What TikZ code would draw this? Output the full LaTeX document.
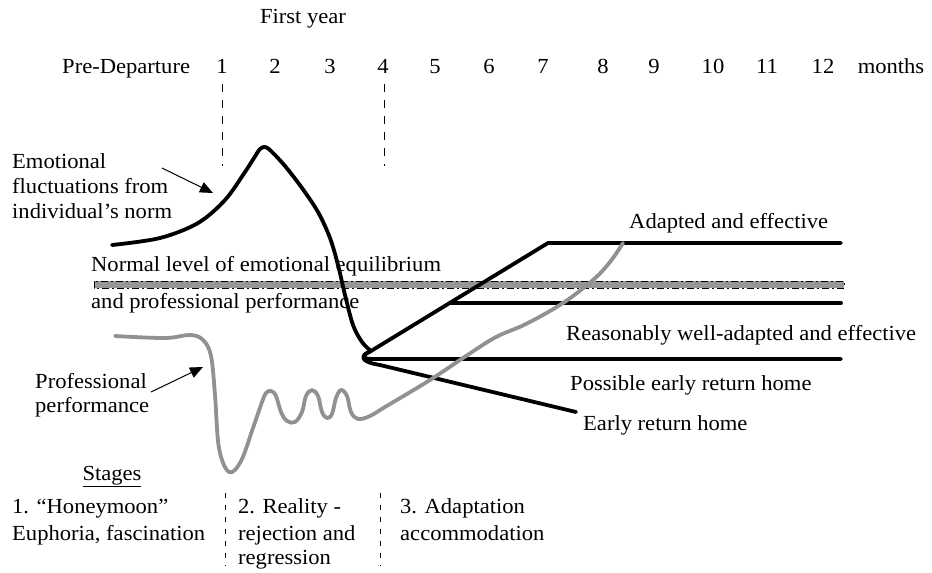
\documentclass[tikz,border=0pt]{standalone}
\usepackage{fontspec}
\setmainfont[FakeStretch=1.05]{Liberation Serif}
\usetikzlibrary{arrows.meta}
\definecolor{perfgray}{RGB}{145,145,145}
\definecolor{bandgray}{RGB}{150,150,150}
\tikzset{
  lbl/.style={inner sep=0pt, anchor=base west, font=\fontsize{21.5}{25}\selectfont},
  lblc/.style={inner sep=0pt, anchor=base, font=\fontsize{21.5}{25}\selectfont},
  emo/.style={line width=3.8pt, line cap=round, line join=round},
  perf/.style={line width=3.8pt, draw=perfgray, line cap=round, line join=round},
  divider/.style={line width=0.9pt, dash pattern=on 8pt off 8pt},
  stagediv/.style={line width=0.9pt, dash pattern=on 5pt off 7pt},
  pointer/.style={line width=1pt, -{Triangle[length=13pt,width=11pt]}}
}
\begin{document}
\begin{tikzpicture}[x=1pt,y=-1pt]
\useasboundingbox (0,0) rectangle (932,573);

% time axis
\node[lblc] (fy) at (303,23) {First year};
\node[lbl] (pre) at (62,73) {Pre-Departure};
\foreach \m/\xx in {1/222,2/275,3/330,4/383,5/435,6/489,7/543,8/603,9/654,10/713,11/767,12/823}
  \node[lblc] (m\m) at (\xx,73) {\m};
\node[lblc] (months) at (891,73) {months};

% month boundaries of the stages
\coordinate (d1t) at (222,84);  \coordinate (d1b) at (222,166);
\coordinate (d4t) at (384,84);  \coordinate (d4b) at (384,166);
\draw[divider] (d1t) -- (d1b);
\draw[divider] (d4t) -- (d4b);

% normal level band
\coordinate (bandA) at (94,281);
\coordinate (bandB) at (844,288);
\fill[bandgray] (bandA) rectangle (bandB);
\draw[line width=0.7pt, dash pattern=on 7pt off 3pt on 2pt off 3pt] (bandA) rectangle (bandB);
\node[lbl] (norm1) at (91,271) {Normal level of emotional equilibrium};
\node[lbl] (norm2) at (91,308) {and professional performance};

% emotional curve
\coordinate (junc) at (371,351);
\draw[emo] plot[smooth, tension=0.55] coordinates {
  (112,245) (160,238) (198,223) (225,200) (245,172) (254,158) (260,149) (265,147) (271,151)
  (285,166) (302,188) (318,212) (330,238) (338,265) (345,295) (353,325) (362,342) (371,351)};

% outcome branches
\coordinate (adA) at (548,243);
\coordinate (adB) at (841,243);
\coordinate (rwA) at (450,303);
\coordinate (rwB) at (841,303);
\coordinate (peA) at (373,359);
\coordinate (peB) at (841,359);
\coordinate (erA) at (380,365);
\coordinate (erB) at (576,412);
\draw[emo] (junc) -- (adA) -- (adB);
\draw[emo] (rwA) -- (rwB);
\draw[emo] (junc) .. controls (361,355) and (361,359) .. (peA) -- (peB);
\draw[emo] (junc) .. controls (358,357) and (362,362) .. (erA) -- (erB);

% professional performance curve
\draw[perf] plot[smooth, tension=0.6] coordinates {
  (115,336) (165,338) (190,335) (203,340) (211,356) (215,395) (219,448) (229,472)
  (241,461) (253,428) (262,402) (266,393) (271,391) (276,396) (281,412)
  (287,421) (295,422) (302,412) (306,396) (312,390) (318,396) (322,412)
  (327,418) (332,414) (336,398) (341,390) (347,396) (351,412) (358,419)
  (370,416) (385,407) (430,380) (466,356) (496,337) (526,324) (563,303) (593,280)
  (610,262) (623,243)};

% outcome labels
\node[lbl] (adapted) at (629,228) {Adapted and effective};
\node[lbl] (reason) at (566,340) {Reasonably well-adapted and effective};
\node[lbl] (possible) at (570,390) {Possible early return home};
\node[lbl] (early) at (583,430) {Early return home};

% curve captions with pointers
\node[lbl] (emo1) at (12,168) {Emotional};
\node[lbl] (emo2) at (12,193) {fluctuations from};
\node[lbl] (emo3) at (12,218) {individual’s norm};
\coordinate (emoS) at (162,168);
\coordinate (emoT) at (213,193);
\draw[pointer] (emoS) -- (emoT);

\node[lbl] (prof1) at (35,388) {Professional};
\node[lbl] (prof2) at (35,412) {performance};
\coordinate (profS) at (151,392);
\coordinate (profT) at (203,367);
\draw[pointer] (profS) -- (profT);

% stages
\node[lblc] (stages) at (112,480) {\underline{Stages}};
\node[lbl] (s1a) at (12,513) {1. “Honeymoon”};
\node[lbl] (s1b) at (12,540) {Euphoria, fascination};
\node[lbl] (s2a) at (238,513) {2. Reality -};
\node[lbl] (s2b) at (238,540) {rejection and};
\node[lbl] (s2c) at (238,564) {regression};
\node[lbl] (s3a) at (400,513) {3. Adaptation};
\node[lbl] (s3b) at (400,540) {accommodation};

\coordinate (sd1t) at (225,493); \coordinate (sd1b) at (225,566);
\coordinate (sd2t) at (380,493); \coordinate (sd2b) at (380,566);
\draw[stagediv] (sd1t) -- (sd1b);
\draw[stagediv] (sd2t) -- (sd2b);
\end{tikzpicture}
\end{document}
